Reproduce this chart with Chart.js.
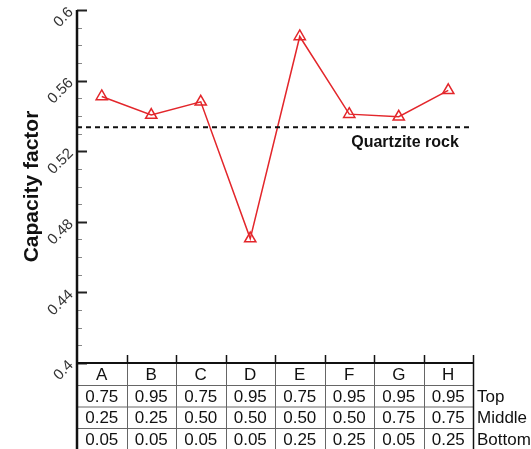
<!DOCTYPE html>
<html>
<head>
<meta charset="utf-8">
<script src="https://cdn.jsdelivr.net/npm/chart.js@4.4.1/dist/chart.umd.min.js"></script>
<style>
  html, body { margin: 0; padding: 0; background: #fff; }
  #wrap { width: 531px; height: 449px; }
</style>
</head>
<body>
<div id="wrap"><canvas id="myChart"></canvas></div>
<script>
// chart values
const categories = ['A', 'B', 'C', 'D', 'E', 'F', 'G', 'H'];
const capacityFactor = [0.551, 0.5405, 0.548, 0.4705, 0.585, 0.541, 0.5395, 0.5545];
const quartziteRock = 0.5335;
const topRow = ['0.75', '0.95', '0.75', '0.95', '0.75', '0.95', '0.95', '0.95'];
const middleRow = ['0.25', '0.25', '0.50', '0.50', '0.50', '0.50', '0.75', '0.75'];
const bottomRow = ['0.05', '0.05', '0.05', '0.05', '0.25', '0.25', '0.05', '0.25'];
const rowNames = ['Top', 'Middle', 'Bottom'];
const yTicks = [0.4, 0.44, 0.48, 0.52, 0.56, 0.6];

const red = '#e3262b';

// inward ticks, dashed reference line and the table under the plot
const decorations = {
    id: 'decorations',
    afterDatasetsDraw(chart) {
        const ctx = chart.ctx;
        const area = chart.chartArea;
        const y = chart.scales.y;
        const x = chart.scales.x;
        ctx.save();

        // minor ticks every 0.01, major every 0.04
        for (let i = 0; i <= 20; i++) {
            const v = 0.4 + i * 0.01;
            const py = Math.round(y.getPixelForValue(v)) + 0.5;
            const major = i % 4 === 0;
            ctx.strokeStyle = major ? '#222' : '#888';
            ctx.lineWidth = major ? 2 : 1;
            ctx.beginPath();
            ctx.moveTo(area.left, py);
            ctx.lineTo(area.left + (major ? 10 : 5), py);
            ctx.stroke();
        }

        // quartzite line
        const qy = y.getPixelForValue(quartziteRock);
        ctx.strokeStyle = '#111';
        ctx.lineWidth = 2;
        ctx.setLineDash([5, 4]);
        ctx.beginPath();
        ctx.moveTo(area.left, qy);
        ctx.lineTo(area.right - 3, qy);
        ctx.stroke();
        ctx.setLineDash([]);
        ctx.fillStyle = '#111';
        ctx.font = 'bold 16px "Liberation Sans", Arial, sans-serif';
        ctx.textAlign = 'center';
        ctx.textBaseline = 'middle';
        ctx.fillText('Quartzite rock', 405, qy + 15);

        // table
        const colW = x.getPixelForValue(1) - x.getPixelForValue(0);
        const rowTops = [area.bottom, area.bottom + 22.5, area.bottom + 44, area.bottom + 65.5, area.bottom + 87];
        const rows = [categories, topRow, middleRow, bottomRow];

        ctx.strokeStyle = '#666';
        ctx.lineWidth = 1;
        for (let r = 1; r < rowTops.length; r++) {
            ctx.beginPath();
            ctx.moveTo(area.left, rowTops[r]);
            ctx.lineTo(area.right, rowTops[r]);
            ctx.stroke();
        }
        for (let i = 1; i < categories.length; i++) {
            const bx = Math.round(x.getPixelForValue(i) - colW / 2) + 0.5;
            ctx.beginPath();
            ctx.moveTo(bx, area.bottom);
            ctx.lineTo(bx, rowTops[4]);
            ctx.stroke();
        }

        // top border (x axis) with short ticks pointing up
        ctx.strokeStyle = '#111';
        ctx.lineWidth = 2;
        ctx.beginPath();
        ctx.moveTo(area.left, area.bottom);
        ctx.lineTo(area.right, area.bottom);
        ctx.stroke();
        ctx.lineWidth = 1.5;
        for (let i = 1; i <= categories.length; i++) {
            const bx = Math.round(x.getPixelForValue(i) - colW / 2) + 0.5;
            ctx.beginPath();
            ctx.moveTo(bx, area.bottom - 8);
            ctx.lineTo(bx, area.bottom);
            ctx.stroke();
        }
        ctx.beginPath();
        ctx.moveTo(area.right + 0.5, area.bottom);
        ctx.lineTo(area.right + 0.5, rowTops[4]);
        ctx.stroke();
        // left axis line running through the table
        ctx.lineWidth = 2.5;
        ctx.beginPath();
        ctx.moveTo(area.left, area.top);
        ctx.lineTo(area.left, rowTops[4]);
        ctx.stroke();

        ctx.fillStyle = '#111';
        ctx.font = '17px "Liberation Sans", Arial, sans-serif';
        ctx.textAlign = 'center';
        ctx.textBaseline = 'middle';
        rows.forEach((row, r) => {
            const cy = (rowTops[r] + rowTops[r + 1]) / 2 + 1;
            row.forEach((txt, i) => {
                ctx.fillText(txt, x.getPixelForValue(i), cy);
            });
        });
        ctx.textAlign = 'left';
        rowNames.forEach((name, r) => {
            const cy = (rowTops[r + 1] + rowTops[r + 2]) / 2 + 1;
            ctx.fillText(name, area.right + 4, cy);
        });

        ctx.restore();
    }
};

const ctx = document.getElementById('myChart');
new Chart(ctx, {
    type: 'line',
    data: {
        labels: categories,
        datasets: [{
            label: 'Capacity factor',
            data: capacityFactor,
            borderColor: red,
            borderWidth: 1.5,
            pointStyle: 'triangle',
            pointRadius: 6.5,
            pointBorderWidth: 1.5,
            pointBorderColor: red,
            pointBackgroundColor: 'rgba(255,255,255,0)',
            tension: 0
        }]
    },
    options: {
        responsive: true,
        maintainAspectRatio: false,
        animation: false,
        layout: {
            padding: { top: 10, right: 58, bottom: 86, left: 0 }
        },
        plugins: {
            legend: { display: false },
            tooltip: { enabled: false }
        },
        scales: {
            x: {
                display: false,
                offset: true
            },
            y: {
                min: 0.4,
                max: 0.6,
                border: { display: false },
                grid: { display: false, drawTicks: false },
                afterFit(scale) {
                    scale.width = 77;
                    scale.paddingTop = 0;
                    scale.paddingBottom = 0;
                },
                afterBuildTicks(scale) {
                    scale.ticks = yTicks.map(v => ({ value: v }));
                },
                ticks: {
                    minRotation: 45,
                    maxRotation: 45,
                    padding: 6,
                    color: '#333',
                    font: { family: '"Liberation Sans", Arial, sans-serif', size: 15 },
                    callback: v => String(+v.toFixed(2))
                },
                title: {
                    display: true,
                    text: 'Capacity factor',
                    color: '#111',
                    padding: { top: 20, bottom: 0 },
                    font: { family: '"Liberation Sans", Arial, sans-serif', size: 21, weight: 'bold' }
                }
            }
        }
    },
    plugins: [decorations]
});
</script>
</body>
</html>
